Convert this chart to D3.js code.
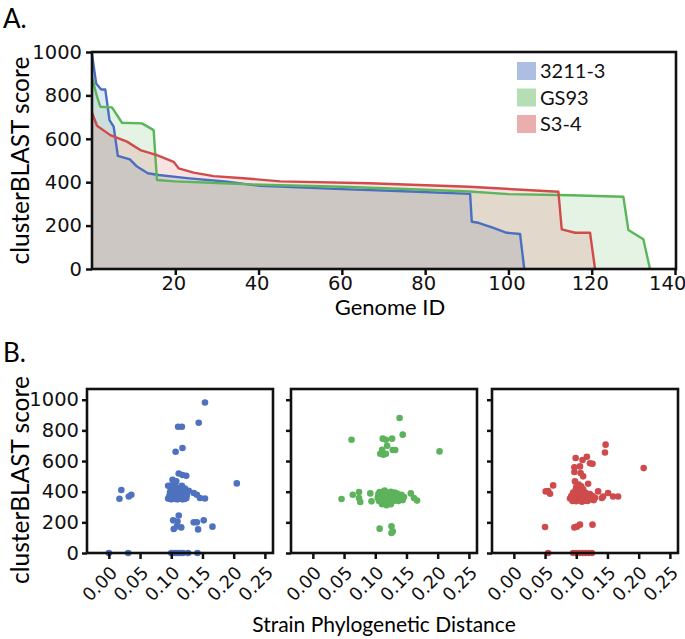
<!DOCTYPE html>
<html>
<head>
<meta charset="utf-8">
<script src="https://cdn.jsdelivr.net/npm/d3@7"></script>
<style>
  body { margin: 0; background: #fff; }
  svg { display: block; font-family: Lato, "Open Sans", sans-serif; }
  .tick line { stroke: #111; stroke-width: 2.5; }
  .tick text { fill: #111; font-family: "DejaVu Sans", sans-serif; }
</style>
</head>
<body>
<svg id="fig" width="685" height="639"></svg>
<script>
// ---- data : panel A, sorted scores per genome (breakpoints [genome id, score])
var curve3211 = [[0,990],[1.0,855],[2.2,827],[3.2,827],[4.2,686],[5.2,656],[6.2,521],[9.1,505],
  [10.8,472],[13.4,441],[16.0,433],[22.8,419],[32.4,402],[40.4,383],[60,368],[75,358],[90.8,346],
  [91.2,218],[92.8,213],[96.4,189],[99.6,167],[102.8,161],[103.8,0]];
var curveGS93 = [[0,885],[1.2,794],[2.0,748],[4.8,745],[7.2,674],[12.0,671],[14.8,640],[15.6,410],
  [20,404],[30,396],[40.4,388],[60,379],[75,369],[90.6,357],[100,345],[115,340],[127.6,333],
  [128.8,180],[132.4,137],[134,0]];
var curveS34 = [[0,720],[1.2,660],[4.4,617],[8.4,587],[11.6,548],[15.6,525],[19.6,494],[20.8,464],
  [24.4,444],[29.2,428],[36.4,418],[45.2,404],[66.5,395],[90.6,379],[112,356],[112.8,183],
  [116,167],[119.6,167],[120.8,0]];

var strains = ["3211-3", "GS93", "S3-4"];
var genomeTicks = [20, 40, 60, 80, 100, 120, 140];
var scoreTicks = [0, 200, 400, 600, 800, 1000];
var distTicks = [0, 0.05, 0.10, 0.15, 0.20, 0.25];

// ---- data : panel B, [strain phylogenetic distance, clusterBLAST score]
var scatter3211 = [[0.154,982],[0.144,850],[0.111,824],[0.117,824],[0.118,685],[0.107,661],
  [0.112,519],[0.118,509],[0.124,504],[0.102,478],[0.108,468],[0.095,439],[0.117,439],
  [0.205,454],[0.020,411],[0.017,354],[0.032,369],[0.036,380],
  [0.095,355],[0.097,372],[0.098,395],[0.099,420],[0.100,350],[0.101,385],[0.102,405],[0.103,360],
  [0.104,430],[0.105,375],[0.106,352],[0.107,398],[0.108,415],[0.109,365],[0.110,350],[0.111,388],
  [0.112,372],[0.113,425],[0.114,355],[0.115,400],[0.116,362],[0.117,380],[0.118,350],[0.119,410],
  [0.120,368],[0.121,352],[0.123,390],[0.124,358],[0.125,376],[0.122,420],[0.100,440],[0.106,455],
  [0.128,406],[0.136,391],[0.141,380],[0.146,359],[0.154,356],
  [0.112,245],[0.103,213],[0.110,206],[0.116,167],[0.104,157],[0.109,174],
  [0.136,200],[0.141,200],[0.143,154],[0.152,213],[0.166,172],
  [0.000,0],[0.031,0],[0.100,0],[0.104,0],[0.108,0],[0.112,0],[0.116,0],[0.119,0],[0.127,0],[0.142,0]];
var scatterGS93 = [[0.139,881],[0.062,739],[0.112,746],[0.117,739],[0.127,746],[0.144,772],[0.119,700],
  [0.111,674],[0.108,648],[0.113,641],[0.117,648],[0.128,672],[0.132,672],[0.203,663],
  [0.046,352],[0.064,380],[0.074,398],[0.074,359],[0.076,333],[0.092,389],[0.094,337],
  [0.104,360],[0.105,385],[0.106,340],[0.107,398],[0.108,352],[0.109,372],[0.110,330],[0.111,392],
  [0.112,345],[0.113,365],[0.114,402],[0.115,338],[0.116,378],[0.117,355],[0.118,395],[0.119,328],
  [0.120,368],[0.121,348],[0.122,388],[0.123,360],[0.124,335],[0.125,400],[0.126,372],[0.127,350],
  [0.128,385],[0.129,340],[0.130,362],[0.131,395],[0.132,345],[0.133,375],[0.134,355],[0.135,388],
  [0.137,340],[0.138,368],[0.140,350],[0.142,380],[0.144,345],[0.146,365],[0.111,318],[0.118,312],
  [0.125,318],[0.115,408],
  [0.157,389],[0.162,359],[0.167,342],
  [0.107,159],[0.126,174],[0.128,141],[0.126,130]];
var scatterS34 = [[0.147,707],[0.146,656],[0.208,554],
  [0.099,620],[0.110,607],[0.117,628],[0.122,585],[0.126,582],[0.106,565],[0.097,559],[0.097,528],
  [0.107,522],[0.111,500],[0.098,467],[0.104,446],[0.119,452],
  [0.063,441],[0.051,402],[0.058,387],[0.055,405],
  [0.090,355],[0.092,372],[0.094,340],[0.095,395],[0.096,362],[0.097,348],[0.098,380],[0.099,410],
  [0.100,338],[0.101,365],[0.102,390],[0.103,350],[0.104,425],[0.105,372],[0.106,345],[0.107,398],
  [0.108,360],[0.109,335],[0.110,382],[0.111,415],[0.112,352],[0.113,368],[0.114,342],[0.115,392],
  [0.116,358],[0.117,375],[0.118,340],[0.120,365],[0.122,385],[0.124,350],[0.126,372],[0.128,345],
  [0.130,360],[0.100,430],[0.108,435],
  [0.135,402],[0.143,369],[0.151,391],[0.159,369],[0.167,369],[0.141,359],
  [0.050,170],[0.097,167],[0.106,185],[0.126,185],[0.101,172],
  [0.055,0],[0.095,0],[0.100,0],[0.105,0],[0.110,0],[0.115,0],[0.120,0],[0.125,0]];

var lineColors = ["#4a6fc0", "#5bb55b", "#d24b4b"];
var fillColors = ["#4a6fc0", "#5bb55b", "#d24b4b"];
var dotColors = ["#4f72bf", "#5cb35c", "#cf4b4b"];

var svg = d3.select("svg#fig");
var tickFont = "19.5px";

// ****************** Panel A ***************************
var ax = {left: 92, right: 676, top: 52, bottom: 269};

var xA = d3.scaleLinear().domain([0, 140]).range([ax.left, ax.right - 1]);
var yA = d3.scaleLinear().domain([0, 1000]).range([ax.bottom, ax.top]);

var area = d3.area()
    .x(function(d) { return xA(d[0]); })
    .y0(yA(0))
    .y1(function(d) { return yA(d[1]); });
var line = d3.line()
    .x(function(d) { return xA(d[0]); })
    .y(function(d) { return yA(d[1]); });

var curves = [curve3211, curveGS93, curveS34];

svg.append("g").selectAll("path.area")
    .data(curves)
  .enter().append("path")
    .attr("class", "area")
    .attr("d", area)
    .style("fill", function(d, i) { return fillColors[i]; })
    .style("fill-opacity", 0.16);

svg.append("g").selectAll("path.line")
    .data(curves)
  .enter().append("path")
    .attr("class", "line")
    .attr("d", line)
    .style("fill", "none")
    .style("stroke", function(d, i) { return lineColors[i]; })
    .style("stroke-width", 2.4)
    .style("stroke-linejoin", "round");

// axes
var yAxisA = d3.axisLeft(yA).tickValues(scoreTicks).tickSize(6).tickPadding(4)
    .tickFormat(d3.format("d"));
var gyA = svg.append("g")
    .attr("transform", "translate(" + ax.left + ",0)")
    .call(yAxisA);
gyA.select(".domain").remove();
gyA.selectAll("text").style("font-size", tickFont);

var xAxisA = d3.axisBottom(xA).tickValues(genomeTicks).tickSize(6).tickPadding(1);
var gxA = svg.append("g")
    .attr("transform", "translate(0," + ax.bottom + ")")
    .call(xAxisA);
gxA.select(".domain").remove();
gxA.selectAll("text")
    .style("font-size", tickFont)
    .attr("dx", function(d) { return d == 140 ? "-0.4em" : "-0.1em"; });

svg.append("rect")
    .attr("x", ax.left).attr("y", ax.top)
    .attr("width", ax.right - ax.left).attr("height", ax.bottom - ax.top)
    .style("fill", "none").style("stroke", "#111").style("stroke-width", 2.6);

// legend
var legend = svg.append("g").selectAll(".legend")
    .data(strains)
  .enter().append("g")
    .attr("class", "legend")
    .attr("transform", function(d, i) { return "translate(517," + (62 + i * 26.5) + ")"; });

legend.append("rect")
    .attr("width", 19).attr("height", 18)
    .style("fill", function(d, i) { return fillColors[i]; })
    .style("fill-opacity", 0.45);

legend.append("text")
    .attr("x", 23).attr("y", 16)
    .style("font-size", "20px")
    .style("fill", "#111")
    .text(function(d) { return d; });

svg.append("text")
    .attr("x", 390).attr("y", 315)
    .attr("text-anchor", "middle")
    .style("font-size", "22px")
    .text("Genome ID");

svg.append("text")
    .attr("transform", "translate(29," + (ax.top + ax.bottom) / 2 + ") rotate(-90)")
    .attr("text-anchor", "middle")
    .style("font-size", "24.5px")
    .text("clusterBLAST score");

svg.append("text").attr("x", 3).attr("y", 28).style("font-size", "26px").text("A.");

// ****************** Panel B ***************************
var bTop = 389, bBottom = 553, bWidth = 186;
var panelLefts = [87, 291, 492];
var scatters = [scatter3211, scatterGS93, scatterS34];

var yB = d3.scaleLinear().domain([0, 1070]).range([bBottom, bTop]);

panelLefts.forEach(function(left, p) {
  var xB = d3.scaleLinear().domain([-0.035, 0.263]).range([left, left + bWidth]);
  var g = svg.append("g");

  g.selectAll("circle")
      .data(scatters[p])
    .enter().append("circle")
      .attr("cx", function(d) { return xB(d[0]); })
      .attr("cy", function(d) { return yB(d[1]); })
      .attr("r", 3.3)
      .style("fill", dotColors[p]);

  var yAxisB = d3.axisLeft(yB).tickValues(scoreTicks).tickSize(5).tickPadding(3)
      .tickFormat(p > 0 ? "" : d3.format("d"));
  var gy = g.append("g")
      .attr("transform", "translate(" + left + ",0)")
      .call(yAxisB);
  gy.select(".domain").remove();
  gy.selectAll("text").style("font-size", tickFont);

  var xAxisB = d3.axisBottom(xB).tickValues(distTicks).tickSize(6)
      .tickFormat(d3.format(".2f"));
  var gx = g.append("g")
      .attr("transform", "translate(0," + bBottom + ")")
      .call(xAxisB);
  gx.select(".domain").remove();
  gx.selectAll("text")
      .attr("y", 0).attr("dy", 0)
      .attr("text-anchor", "end")
      .attr("transform", "translate(9,21) rotate(-45)")
      .style("font-size", "18px");

  g.append("rect")
      .attr("x", left).attr("y", bTop)
      .attr("width", bWidth).attr("height", bBottom - bTop)
      .style("fill", "none").style("stroke", "#111").style("stroke-width", 2.6);
});

svg.append("text")
    .attr("x", 384).attr("y", 632)
    .attr("text-anchor", "middle")
    .style("font-size", "21px")
    .text("Strain Phylogenetic Distance");

svg.append("text")
    .attr("transform", "translate(29,480) rotate(-90)")
    .attr("text-anchor", "middle")
    .style("font-size", "24.5px")
    .text("clusterBLAST score");

svg.append("text").attr("x", 3).attr("y", 362).style("font-size", "26px").text("B.");
</script>
</body>
</html>
